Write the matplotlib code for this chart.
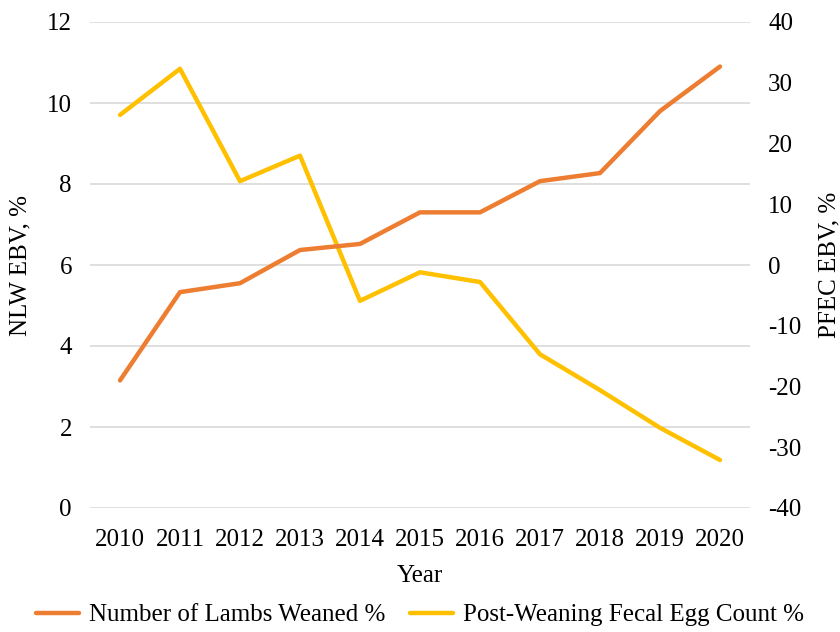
import matplotlib
matplotlib.use("Agg")
import matplotlib.pyplot as plt
import numpy as np

# data
years = ["2010", "2011", "2012", "2013", "2014", "2015",
         "2016", "2017", "2018", "2019", "2020"]
nlw = [3.15, 5.33, 5.55, 6.37, 6.52, 7.3, 7.3, 8.07, 8.27, 9.8, 10.9]
pfec = [24.7, 32.3, 13.8, 18.0, -5.9, -1.2, -2.8, -14.7, -20.6, -26.8, -32.1]

orange = "#ED7D31"
yellow = "#FFC000"

plt.rcParams["font.family"] = ["Liberation Serif", "DejaVu Serif"]
plt.rcParams["font.size"] = 18
plt.rcParams["axes.unicode_minus"] = False

fig = plt.figure(figsize=(8.4, 6.32), dpi=100)
ax = fig.add_axes([90/840, 1-508/632, 660/840, 486/632])
ax2 = ax.twinx()

x = np.arange(len(years))
l1, = ax.plot(x, nlw, color=orange, lw=3.2, solid_capstyle="round",
              label="Number of Lambs Weaned %")
l2, = ax2.plot(x, pfec, color=yellow, lw=3.2, solid_capstyle="round",
               label="Post-Weaning Fecal Egg Count %")
ax.set_zorder(ax2.get_zorder() + 1)
ax.patch.set_visible(False)

ax.set_xlim(-0.5, len(years) - 0.5)
ax.set_ylim(0, 12)
ax.set_yticks(range(0, 13, 2))
ax2.set_ylim(-40, 40)
ax2.set_yticks(range(-40, 41, 10))
ax.set_xticks(x)
ax.set_xticklabels(years)

for v in range(0, 13, 2):
    ax2.axhline(v * 80 / 12 - 40, color="#D9D9D9", lw=1.2, zorder=0)

for a in (ax, ax2):
    for s in a.spines.values():
        s.set_visible(False)
    a.tick_params(length=0, colors="#000000")
ax.tick_params(axis="y", pad=13)
ax.tick_params(axis="x", pad=15)
ax2.tick_params(axis="y", pad=13)

ax.set_ylabel("NLW EBV, %")
ax2.set_ylabel("PFEC EBV, %")
ax.yaxis.set_label_coords(-0.088, 0.5)
ax2.yaxis.set_label_coords(1.103, 0.5)
ax.set_xlabel("Year", labelpad=10)

fig.legend(handles=[l1, l2], loc="center", bbox_to_anchor=(0.5, 1-615/632),
           ncol=2, frameon=False, handlelength=1.7, columnspacing=1.0,
           handletextpad=0.4)

fig.savefig("out.png", dpi=100)
